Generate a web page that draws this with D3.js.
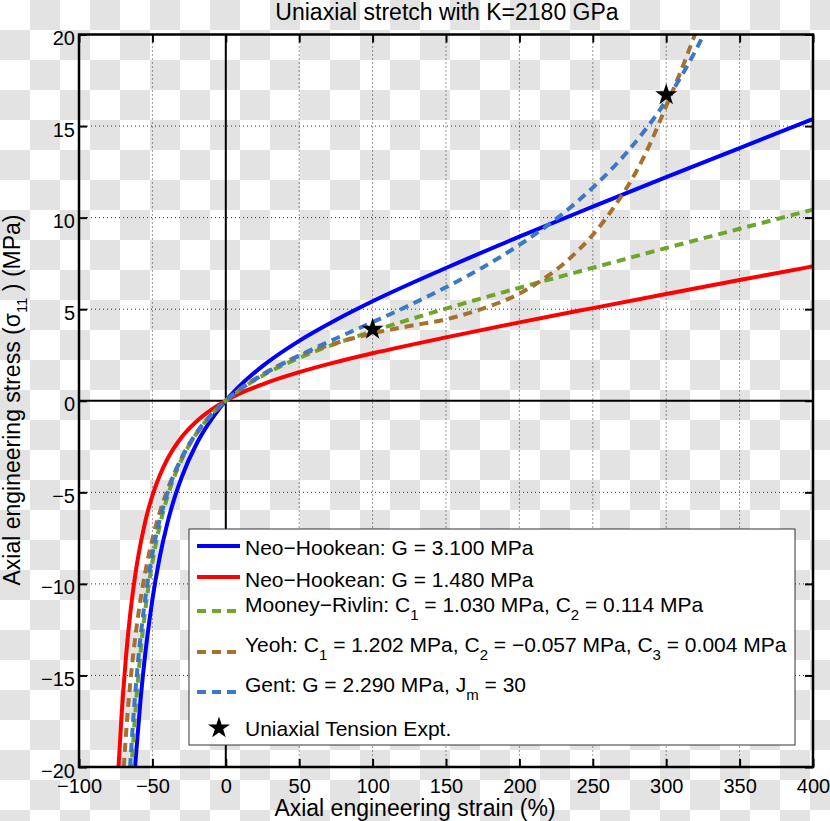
<!DOCTYPE html>
<html>
<head>
<meta charset="utf-8">
<script src="https://cdn.jsdelivr.net/npm/d3@7"></script>
<style>
  html, body { margin: 0; padding: 0; background: #fff; }
  svg { display: block; font-family: "Liberation Sans", Arial, Helvetica, sans-serif; }
</style>
</head>
<body>
<svg id="chart" width="830" height="821"></svg>
<script>
// ---------------- data ----------------
const xTicks = [-100, -50, 0, 50, 100, 150, 200, 250, 300, 350, 400];
const yTicks = [-20, -15, -10, -5, 0, 5, 10, 15, 20];

const strainNH1 = [-61.8,-61,-58,-55,-52,-50,-45,-40,-35,-30,-20,-10,-5,0,5,10,25,50,75,100,150,200,250,300,350,400];
const stressNH1 = [-20.0,-19.17,-16.27,-13.91,-11.97,-10.85,-8.54,-6.75,-5.32,-4.16,-2.36,-1.04,-0.49,0,0.44,0.85,1.89,3.27,4.41,5.43,7.25,8.96,10.6,12.21,13.8,15.38];

const strainNH2 = [-73.2,-73,-71,-70,-68,-65,-62,-60,-55,-50,-45,-40,-30,-20,-10,0,10,25,50,75,100,150,200,250,300,350,400];
const stressNH2 = [-20.2,-19.9,-17.17,-16.0,-13.98,-11.56,-9.69,-8.66,-6.64,-5.18,-4.08,-3.22,-1.98,-1.13,-0.50,0,0.41,0.90,1.56,2.11,2.59,3.46,4.28,5.06,5.83,6.59,7.34];

const strainMR = [-64.3,-64,-63,-62,-60,-57,-55,-50,-45,-40,-30,-20,-10,0,10,25,50,75,100,150,200,250,300,350,400];
const stressMR = [-20.3,-19.8,-18.56,-17.41,-15.39,-12.89,-11.52,-8.81,-6.82,-5.31,-3.20,-1.79,-0.77,0,0.62,1.37,2.34,3.12,3.80,5.03,6.17,7.26,8.34,9.39,10.44];

const strainYeoh = [-69.5,-69,-68,-67,-65,-63,-60,-55,-50,-40,-30,-20,-10,0,10,25,50,75,100,125,150,175,200,220,230,240,250,260,270,280,290,300,310,320];
const stressYeoh = [-20.0,-19.38,-18.23,-17.17,-15.35,-13.81,-11.89,-9.42,-7.56,-4.92,-3.12,-1.81,-0.80,0,0.66,1.44,2.45,3.15,3.68,4.08,4.45,5.03,5.85,6.85,7.47,8.21,9.06,10.07,11.24,12.57,14.2,16.1,18.0,20.1];

const strainGent = [-65.2,-65,-64,-62,-60,-55,-50,-40,-30,-20,-10,0,10,25,50,75,100,125,150,175,200,225,250,275,300,310,320,326];
const stressGent = [-20.0,-19.76,-18.5,-16.3,-14.44,-10.88,-8.36,-5.11,-3.11,-1.75,-0.77,0,0.63,1.41,2.47,3.40,4.29,5.21,6.20,7.28,8.51,9.93,11.64,13.73,16.39,17.68,19.12,20.08];

const expStrain = [100, 300];
const expStress = [3.9, 16.7];

// ---------------- setup ----------------
const svg = d3.select("#chart");
const W = 830, H = 821;
const x = d3.scaleLinear().domain([-100, 400]).range([79, 813]);
const y = d3.scaleLinear().domain([-20, 20]).range([767, 34.5]);

const defs = svg.append("defs");
const pat = defs.append("pattern").attr("id", "checker")
  .attr("patternUnits", "userSpaceOnUse").attr("width", 60).attr("height", 60);
pat.append("rect").attr("width", 60).attr("height", 60).attr("fill", "#ffffff");
pat.append("rect").attr("x", 30).attr("y", 0).attr("width", 30).attr("height", 30).attr("fill", "#e3e3e3");
pat.append("rect").attr("x", 0).attr("y", 30).attr("width", 30).attr("height", 30).attr("fill", "#e3e3e3");

defs.append("clipPath").attr("id", "plotclip").append("rect")
  .attr("x", x(-100)).attr("y", y(20)).attr("width", x(400) - x(-100)).attr("height", y(-20) - y(20));

svg.append("rect").attr("width", W).attr("height", H).attr("fill", "url(#checker)");

// grid
const grid = svg.append("g");
xTicks.filter(t => t !== -100 && t !== 400 && t !== 0).forEach(t => {
  grid.append("line").attr("x1", x(t)).attr("x2", x(t)).attr("y1", y(20)).attr("y2", y(-20))
    .attr("stroke", "#333").attr("stroke-width", 1).attr("stroke-dasharray", "1,3");
});
yTicks.filter(t => t !== -20 && t !== 20 && t !== 0).forEach(t => {
  grid.append("line").attr("y1", y(t)).attr("y2", y(t)).attr("x1", x(-100)).attr("x2", x(400))
    .attr("stroke", "#333").attr("stroke-width", 1).attr("stroke-dasharray", "1,3");
});

// zero lines
svg.append("line").attr("x1", x(0)).attr("x2", x(0)).attr("y1", y(20)).attr("y2", y(-20))
  .attr("stroke", "#000").attr("stroke-width", 2);
svg.append("line").attr("x1", x(-100)).attr("x2", x(400)).attr("y1", y(0)).attr("y2", y(0))
  .attr("stroke", "#000").attr("stroke-width", 2);

// curves
const series = [
  { s: strainNH1, v: stressNH1, color: "#0000ff", dash: null },
  { s: strainNH2, v: stressNH2, color: "#ff0000", dash: null },
  { s: strainMR, v: stressMR, color: "#6ea52c", dash: "9,6" },
  { s: strainYeoh, v: stressYeoh, color: "#a6712e", dash: "9,6" },
  { s: strainGent, v: stressGent, color: "#3b78c6", dash: "9,6" }
];
const line = d3.line().x(d => x(d[0])).y(d => y(d[1])).curve(d3.curveMonotoneX);
const curves = svg.append("g").attr("clip-path", "url(#plotclip)");
series.forEach(sr => {
  const pts = sr.s.map((s, i) => [s, sr.v[i]]);
  const p = curves.append("path").attr("d", line(pts)).attr("fill", "none")
    .attr("stroke", sr.color).attr("stroke-width", 4);
  if (sr.dash) p.attr("stroke-dasharray", sr.dash);
});

// experiment stars
const star = d3.symbol().type(d3.symbolStar).size(150);
svg.append("g").selectAll("path").data(expStrain.map((s, i) => [s, expStress[i]])).join("path")
  .attr("d", star).attr("transform", d => `translate(${x(d[0])},${y(d[1])})`).attr("fill", "#000");

// axes
const axB = svg.append("g").attr("transform", `translate(0,${y(-20)})`)
  .call(d3.axisBottom(x).tickValues(xTicks).tickSizeInner(-8).tickSizeOuter(0).tickPadding(12));
const axT = svg.append("g").attr("transform", `translate(0,${y(20)})`)
  .call(d3.axisTop(x).tickValues(xTicks).tickSizeInner(-8).tickSizeOuter(0).tickFormat(""));
const axL = svg.append("g").attr("transform", `translate(${x(-100)},0)`)
  .call(d3.axisLeft(y).tickValues(yTicks).tickSizeInner(-8).tickSizeOuter(0).tickPadding(4));
const axR = svg.append("g").attr("transform", `translate(${x(400)},0)`)
  .call(d3.axisRight(y).tickValues(yTicks).tickSizeInner(-8).tickSizeOuter(0).tickFormat(""));
[axB, axT, axL, axR].forEach(a => {
  a.select(".domain").remove();
  a.selectAll(".tick line").attr("stroke", "#000").attr("stroke-width", 2);
  a.selectAll("text").attr("font-size", 20).attr("fill", "#000")
    .attr("font-family", "'Liberation Sans', Arial, sans-serif");
});
axL.selectAll("text").attr("dy", "0.5em");

// box
svg.append("rect").attr("x", x(-100)).attr("y", y(20))
  .attr("width", x(400) - x(-100)).attr("height", y(-20) - y(20))
  .attr("fill", "none").attr("stroke", "#000").attr("stroke-width", 2.5);

// title & labels
svg.append("text").attr("x", 447).attr("y", 20).attr("text-anchor", "middle")
  .attr("font-size", 23).text("Uniaxial stretch with K=2180 GPa");
svg.append("text").attr("x", 415).attr("y", 816).attr("text-anchor", "middle")
  .attr("font-size", 23).text("Axial engineering strain (%)");
const yl = svg.append("text").attr("transform", "translate(20,400) rotate(-90)")
  .attr("text-anchor", "middle").attr("font-size", 23);
yl.append("tspan").text("Axial engineering stress (σ");
yl.append("tspan").attr("font-size", 15).attr("dy", 7).text("11");
yl.append("tspan").attr("dy", -7).text(" ) (MPa)");

// legend
const lg = svg.append("g");
lg.append("rect").attr("x", 189).attr("y", 529).attr("width", 606).attr("height", 216)
  .attr("fill", "#fff").attr("stroke", "#333").attr("stroke-width", 1);
const legendRows = [
  { i: 0, ly: 546, ty: 555, parts: [["Neo−Hookean: G = 3.100 MPa"]] },
  { i: 1, ly: 577, ty: 587, parts: [["Neo−Hookean: G = 1.480 MPa"]] },
  { i: 2, ly: 611, ty: 612, parts: [["Mooney−Rivlin: C"], ["1", 1], [" = 1.030 MPa, C"], ["2", 1], [" = 0.114 MPa"]] },
  { i: 3, ly: 652, ty: 652, parts: [["Yeoh: C"], ["1", 1], [" = 1.202 MPa, C"], ["2", 1], [" = −0.057 MPa, C"], ["3", 1], [" = 0.004 MPa"]] },
  { i: 4, ly: 692, ty: 692, parts: [["Gent: G = 2.290 MPa, J"], ["m", 1], [" = 30"]] }
];
legendRows.forEach(r => {
  const sr = series[r.i];
  const l = lg.append("line").attr("x1", 197).attr("x2", 240).attr("y1", r.ly).attr("y2", r.ly)
    .attr("stroke", sr.color).attr("stroke-width", 4);
  if (sr.dash) l.attr("stroke-dasharray", sr.dash);
  const t = lg.append("text").attr("x", 245).attr("y", r.ty).attr("font-size", 21);
  let down = false;
  r.parts.forEach(p => {
    const ts = t.append("tspan").text(p[0]);
    if (p[1]) { ts.attr("font-size", 15).attr("dy", 8); down = true; }
    else if (down) { ts.attr("dy", -8); down = false; }
  });
});
lg.append("path").attr("d", star).attr("transform", "translate(219,728)").attr("fill", "#000");
lg.append("text").attr("x", 245).attr("y", 736).attr("font-size", 21).text("Uniaxial Tension Expt.");
</script>
</body>
</html>
